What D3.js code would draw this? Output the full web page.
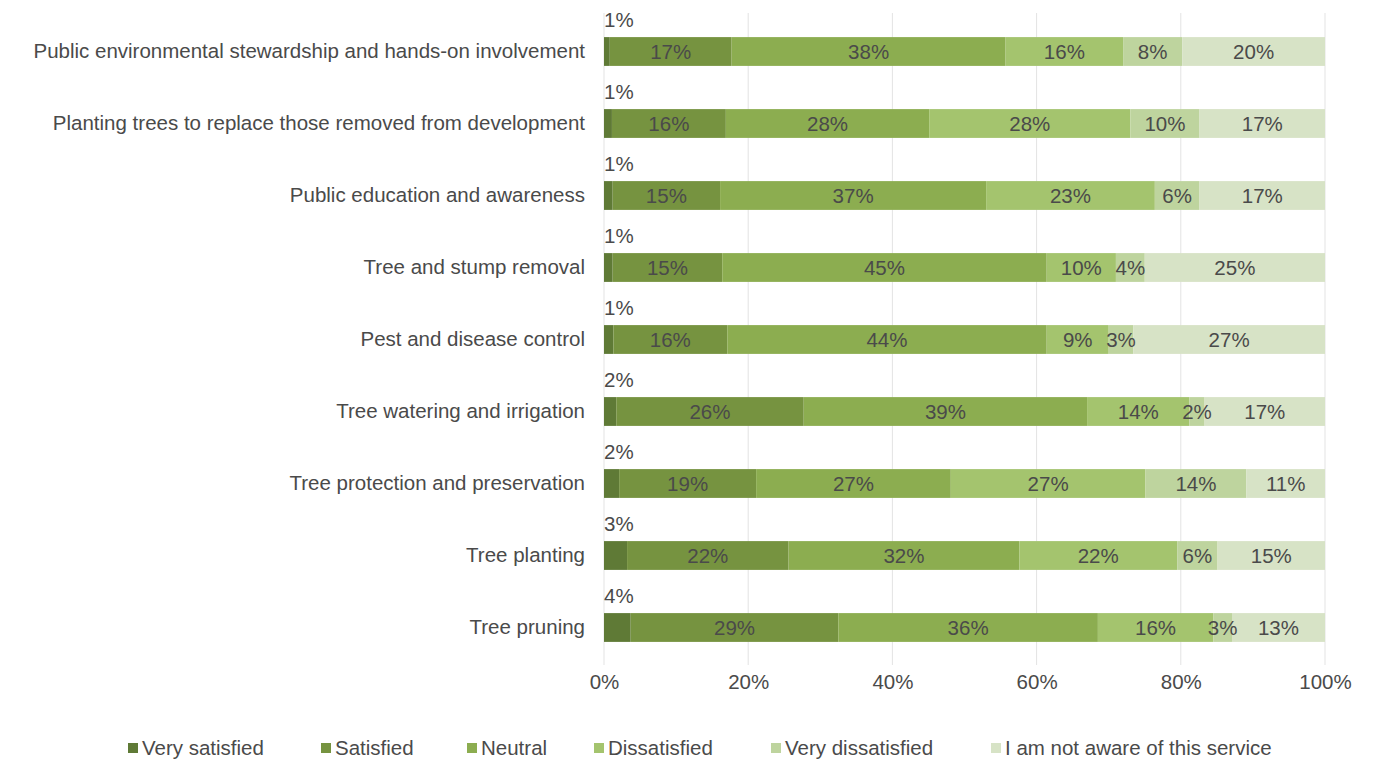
<!DOCTYPE html>
<html>
<head>
<meta charset="utf-8">
<script src="https://cdn.jsdelivr.net/npm/d3@7"></script>
<style>
  html, body { margin: 0; padding: 0; background: #ffffff; }
  svg { display: block; font-family: "Liberation Sans", Arial, sans-serif; }
</style>
</head>
<body>
<svg id="chart" width="1389" height="763"></svg>
<script>
const categories = [
  "Public environmental stewardship and hands-on involvement",
  "Planting trees to replace those removed from development",
  "Public education and awareness",
  "Tree and stump removal",
  "Pest and disease control",
  "Tree watering and irrigation",
  "Tree protection and preservation",
  "Tree planting",
  "Tree pruning"
];
const seriesNames = ["Very satisfied", "Satisfied", "Neutral", "Dissatisfied", "Very dissatisfied", "I am not aware of this service"];
const seriesColors = ["#5f7a36", "#769340", "#8cad50", "#a4c46e", "#bed49e", "#d7e3c6"];
const verySatisfied    = [0.8, 1.1, 1.2, 1.2, 1.3, 1.7, 2.1, 3.2, 3.7];
const satisfied        = [16.9, 15.8, 14.9, 15.2, 15.8, 26.0, 19.0, 22.4, 28.8];
const neutral          = [38.0, 28.2, 36.9, 45.0, 44.3, 39.3, 27.0, 32.0, 36.0];
const dissatisfied     = [16.3, 27.9, 23.4, 9.6, 8.6, 14.2, 27.0, 21.9, 16.0];
const veryDissatisfied = [8.2, 9.6, 6.2, 4.0, 3.4, 2.1, 14.0, 5.6, 2.6];
const notAware         = [19.8, 17.4, 17.4, 25.0, 26.6, 16.7, 10.9, 14.9, 12.9];
const xTicks = [0, 20, 40, 60, 80, 100];

const seriesValues = [verySatisfied, satisfied, neutral, dissatisfied, veryDissatisfied, notAware];

const svg = d3.select("#chart");
const plotLeft = 604, plotRight = 1325, plotTop = 15.5, plotBottom = 663.5;
const textColor = "#4a4a4a";
const fs = 20.5;

const x = d3.scaleLinear().domain([0, 100]).range([plotLeft, plotRight]);
const y = d3.scaleBand().domain(categories).range([plotTop, plotBottom]).paddingInner(0.6).paddingOuter(0.3);

// gridlines
svg.append("g").selectAll("line").data(xTicks).join("line")
  .attr("x1", d => x(d)).attr("x2", d => x(d))
  .attr("y1", 13).attr("y2", 665)
  .attr("stroke", "#e3e3e3").attr("stroke-width", 1);

// axis tick labels
const xAxis = d3.axisBottom(x).tickValues(xTicks).tickFormat(d => d + "%").tickSize(0).tickPadding(0);
const gx = svg.append("g").attr("transform", `translate(0, ${plotBottom + 11})`).call(xAxis);
gx.select(".domain").remove();
gx.selectAll("text").attr("font-size", fs).attr("fill", textColor)
  .attr("font-family", "Liberation Sans, Arial, sans-serif").attr("dy", "0.71em");

// category labels
const yAxis = d3.axisLeft(y).tickSize(0).tickPadding(19);
const gy = svg.append("g").attr("transform", `translate(${plotLeft}, 0)`).call(yAxis);
gy.select(".domain").remove();
gy.selectAll("text").attr("font-size", fs).attr("fill", textColor)
  .attr("font-family", "Liberation Sans, Arial, sans-serif");

// stacked data
const rows = categories.map((c, i) => {
  const o = { category: c };
  seriesNames.forEach((s, j) => { o[s] = seriesValues[j][i]; });
  return o;
});
const stack = d3.stack().keys(seriesNames);
const stacked = stack(rows);

const layers = svg.append("g").selectAll("g").data(stacked).join("g")
  .attr("fill", (d, i) => seriesColors[i]);
layers.selectAll("rect").data(d => d.map(v => ({ v, key: d.key }))).join("rect")
  .attr("x", d => x(d.v[0]))
  .attr("width", d => x(d.v[1]) - x(d.v[0]))
  .attr("y", d => y(d.v.data.category))
  .attr("height", y.bandwidth());

// value labels
stacked.forEach((layer, li) => {
  svg.append("g").selectAll("text").data(layer).join("text")
    .attr("x", d => li === 0 ? x(d[0]) : (x(d[0]) + x(d[1])) / 2)
    .attr("y", d => li === 0 ? y(d.data.category) - 10 : y(d.data.category) + y.bandwidth() / 2)
    .attr("dy", li === 0 ? "0" : "0.36em")
    .attr("text-anchor", li === 0 ? "start" : "middle")
    .attr("font-size", fs)
    .attr("fill", textColor)
    .text(d => Math.round(d[1] - d[0]) + "%");
});

// legend
const legendX = [128, 321, 467, 594, 771, 991];
const legend = svg.append("g").selectAll("g").data(seriesNames).join("g")
  .attr("transform", (d, i) => `translate(${legendX[i]}, 748)`);
legend.append("rect").attr("x", 0).attr("y", -5).attr("width", 10).attr("height", 10)
  .attr("fill", (d, i) => seriesColors[i]);
legend.append("text").attr("x", 14).attr("y", 0).attr("dy", "0.36em")
  .attr("font-size", fs).attr("fill", textColor).text(d => d);
</script>
</body>
</html>
